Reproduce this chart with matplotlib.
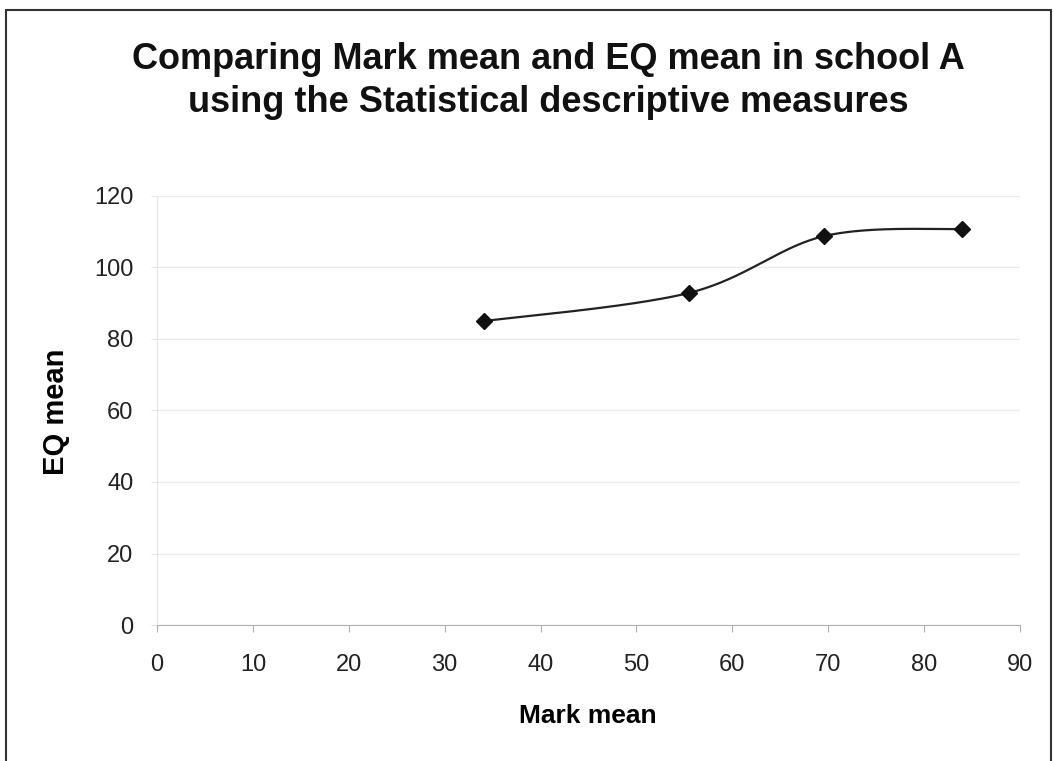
import numpy as np
import matplotlib
matplotlib.use("Agg")
import matplotlib.pyplot as plt
from matplotlib.patches import Rectangle

plt.rcParams["font.family"] = ["Liberation Sans", "DejaVu Sans"]

mark_mean = [34.1, 55.5, 69.6, 84.0]
eq_mean = [85.0, 92.9, 108.8, 110.8]
x_ticks = [0, 10, 20, 30, 40, 50, 60, 70, 80, 90]
y_ticks = [0, 20, 40, 60, 80, 100, 120]


def smooth_curve(xs, ys, n=60):
    # cubic Bezier through the points, tangents from the neighbouring points
    pts = np.column_stack([xs, ys]).astype(float)
    out = []
    for i in range(len(pts) - 1):
        p0 = pts[max(i - 1, 0)]
        p1 = pts[i]
        p2 = pts[i + 1]
        p3 = pts[min(i + 2, len(pts) - 1)]
        c1 = p1 + (p2 - p0) / 6.0
        c2 = p2 - (p3 - p1) / 6.0
        t = np.linspace(0, 1, n)[:, None]
        seg = ((1 - t) ** 3 * p1 + 3 * (1 - t) ** 2 * t * c1
               + 3 * (1 - t) * t ** 2 * c2 + t ** 3 * p2)
        out.append(seg)
    out = np.vstack(out)
    return out[:, 0], out[:, 1]


fig = plt.figure(figsize=(10.53, 7.61), dpi=100)
fig.patch.set_facecolor("white")

# chart frame
fig.patches.append(Rectangle((6 / 1053, -0.05), 1045 / 1053, 1.05 - 10 / 761,
                             transform=fig.transFigure, fill=False,
                             edgecolor="#333333", linewidth=1.5))

ax = fig.add_axes([157 / 1053, 1 - 625 / 761, 863 / 1053, 429 / 761])
ax.set_xlim(0, 90)
ax.set_ylim(0, 120)
ax.set_xticks(x_ticks)
ax.set_yticks(y_ticks)
ax.grid(axis="y", color="#ebebeb", linewidth=1)
ax.set_axisbelow(True)

sx, sy = smooth_curve(mark_mean, eq_mean)
ax.plot(sx, sy, color="#222222", linewidth=1.6, zorder=3)
ax.plot(mark_mean, eq_mean, linestyle="none", marker="D", markersize=8,
        color="#111111", zorder=4)

for side in ["top", "right"]:
    ax.spines[side].set_visible(False)
ax.spines["bottom"].set_color("#b0b0b0")
ax.spines["left"].set_color("#e6e6e6")
ax.tick_params(axis="x", colors="#b0b0b0", length=5, labelsize=17,
               labelcolor="#222222", pad=16)
ax.tick_params(axis="y", colors="#e6e6e6", length=4, labelsize=17,
               labelcolor="#222222", pad=13)

ax.set_xlabel("Mark mean", fontsize=19, fontweight="bold", va="center")
ax.set_ylabel("EQ mean", fontsize=21, fontweight="bold", va="center")
ax.xaxis.set_label_coords(0.4994, (625 - 716) / 429)
ax.yaxis.set_label_coords((56 - 157) / 863, (625 - 412) / 429)

fig.text(548 / 1053, 1 - 81 / 761,
         "Comparing Mark mean and EQ mean in school A\n"
         "using the Statistical descriptive measures",
         ha="center", va="center", fontsize=26, fontweight="bold",
         linespacing=1.32, color="#111111")

fig.savefig("out.png", dpi=100, facecolor="white")
